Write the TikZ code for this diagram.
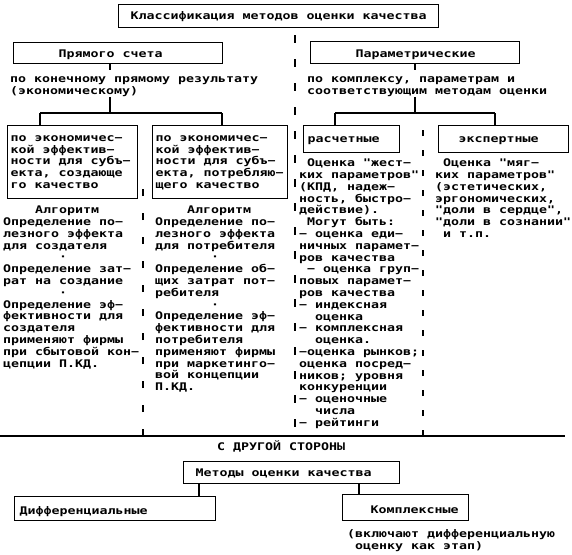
\documentclass[tikz,border=0pt]{standalone}
\usepackage{fontspec}
\newfontfamily\pix[FakeStretch=1.2655]{DejaVu Sans Mono}
\newcommand{\ind}[1]{\hspace*{#1\dimexpr 8pt\relax}}
\newcommand{\bxt}[5]{\parbox[c][#2][t]{#1}{\raggedright\leftskip=#3\relax\rule{0pt}{#4}#5}}
\begin{document}
\begin{tikzpicture}[x=1pt,y=-1pt,
  every node/.style={font=\pix\bfseries\fontsize{10.5}{11.8}\selectfont},
  box/.style={draw, line width=1.4pt, inner sep=0pt, anchor=north west},
  txt/.style={inner sep=0pt, anchor=north west, align=left},
  conn/.style={line width=1.4pt},
  sepmain/.style={line width=2pt, dash pattern=on 8pt off 16pt},
  sepa/.style={line width=2pt, dash pattern=on 7pt off 17pt},
  sepb/.style={line width=2pt, dash pattern=on 6pt off 14pt}]
\useasboundingbox (0,0) rectangle (572,554);
% boxes
\node[box] (tt) at (118,4) {\bxt{320pt}{23pt}{12pt}{15pt}{Классификация методов оценки качества}};
\node[box] (pr) at (13,42) {\bxt{209pt}{21pt}{45pt}{14.5pt}{Прямого счета}};
\node[box] (pa) at (310,41) {\bxt{209pt}{22pt}{45pt}{15.5pt}{Параметрические}};
\node[txt] (t1) at (10,72.5) {\rule{0pt}{10pt}по конечному прямому результату\\(экономическому)};
\node[txt] (t2) at (307,72.5) {\rule{0pt}{10pt}по комплексу, параметрам и\\соответствующим методам оценки};
\node[box] (c1) at (7,125) {\bxt{130pt}{73pt}{3pt}{15.5pt}{по экономичес−\\кой эффектив−\\ности для субъ−\\екта, создающе\\го качество}};
\node[box] (c2) at (152,125) {\bxt{135pt}{73pt}{3pt}{15.5pt}{по экономичес−\\кой эффектив−\\ности для субъ−\\екта, потребляю−\\щего качество}};
\node[box] (c3) at (303,125) {\bxt{96pt}{27pt}{4pt}{16.5pt}{расчетные}};
\node[box] (c4) at (438,125) {\bxt{130pt}{27pt}{20pt}{16.5pt}{экспертные}};
% column texts
\node[txt] (a1) at (3,203.5) {\rule{0pt}{10pt}\ind{4}Алгоритм\\Определение по−\\лезного эффекта\\для создателя\\\ind{7}·\\Определение зат−\\рат на создание\\\ind{7}·\\Определение эф−\\фективности для\\создателя\\применяют фирмы\\при сбытовой кон−\\цепции П.КД.};
\node[txt] (a2) at (155,203.5) {\rule{0pt}{10pt}\ind{4}Алгоритм\\Определение по−\\лезного эффекта\\для потребителя\\\ind{7}·\\Определение об−\\щих затрат пот−\\ребителя\\\ind{7}·\\Определение эф−\\фективности для\\потребителя\\применяют фирмы\\при маркетинго−\\вой концепции\\П.КД.};
\node[txt] (p3) at (299,156.5) {\rule{0pt}{10pt}\ind{1}Оценка "жест−\\ких параметров"\\(КПД, надеж−\\ность, быстро−\\действие).\\\ind{1}Могут быть:\\− оценка еди−\\ничных парамет−\\ров качества\\\ind{1}− оценка груп−\\повых парамет−\\ров качества\\− индексная\\\ind{2}оценка\\− комплексная\\\ind{2}оценка.\\−оценка рынков;\\оценка посред−\\ников; уровня\\конкуренции\\− оценочные\\\ind{2}числа\\− рейтинги};
\node[txt] (p4) at (435,156.5) {\rule{0pt}{10pt}\ind{1}Оценка "мяг−\\ких параметров"\\(эстетических,\\эргономических,\\"доли в сердце",\\"доли в сознании"\\\ind{1}и т.п.};
% bottom part
\node[txt] (other) at (217,440.5) {\rule{0pt}{10pt}С ДРУГОЙ СТОРОНЫ};
\node[box] (mo) at (183,461) {\bxt{216pt}{22pt}{12pt}{15pt}{Методы оценки качества}};
\node[box] (df) at (14,496) {\bxt{201pt}{24pt}{5pt}{17.5pt}{Дифференциальные}};
\node[box] (km) at (342,494) {\bxt{126pt}{26pt}{28pt}{19pt}{Комплексные}};
\node[txt] (note) at (347,527.5) {\rule{0pt}{10pt}(включают дифференциальную\\\ind{1}оценку как этап)};
% junction coordinates
\coordinate (L0) at (110,70);
\coordinate (L1) at (110,97);
\coordinate (L2) at (110,113);
\coordinate (L3) at (40,113);
\coordinate (L4) at (222,113);
\coordinate (R0) at (415,70);
\coordinate (R1) at (415,97);
\coordinate (R2) at (415,113);
\coordinate (R3) at (335,113);
\coordinate (R4) at (495,113);
\coordinate (B1) at (199,490);
\coordinate (B2) at (359,490);
% connectors
\draw[conn] (pr.south -| L0) -- (L0);
\draw[conn] (L1) -- (L2);
\draw[conn] (L3) -- (L4);
\draw[conn] (L3) -- (c1.north -| L3);
\draw[conn] (L4) -- (c2.north -| L4);
\draw[conn] (pa.south -| R0) -- (R0);
\draw[conn] (R1) -- (R2);
\draw[conn] (R3) -- (R4);
\draw[conn] (R3) -- (c3.north -| R3);
\draw[conn] (R4) -- (c4.north -| R4);
\draw[conn] (mo.south -| B1) -- (df.north -| B1);
\draw[conn] (mo.south -| B2) -- (km.north -| B2);
% separators
\coordinate (H0) at (0,436);
\coordinate (H1) at (565,436);
\draw[conn] (H0) -- (H1);
\draw[sepmain] (295,35) -- (295,428);
\draw[sepa] (143,436) -- (143,188);
\draw[sepb] (423,436) -- (423,118);
\end{tikzpicture}
\end{document}
